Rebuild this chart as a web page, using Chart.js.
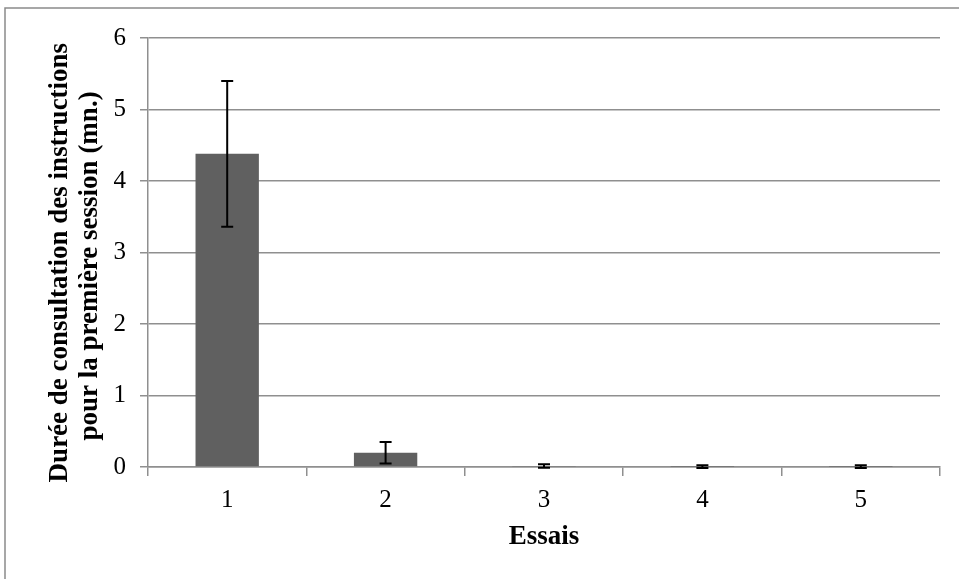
<!DOCTYPE html>
<html>
<head>
<meta charset="utf-8">
<script src="https://cdn.jsdelivr.net/npm/chart.js@4.4.0/dist/chart.umd.min.js"></script>
<style>
  body { margin: 0; background: #fff; }
  canvas { display: block; }
</style>
</head>
<body>
<canvas id="chart" width="959" height="579"></canvas>
<script>
// donnees
const essais  = ['1', '2', '3', '4', '5'];
const durees  = [4.38, 0.20, 0.015, 0.005, 0.005];
const erreurs = [1.02, 0.15, 0.025, 0.02, 0.02];
const yTicks  = [0, 1, 2, 3, 4, 5, 6];

const serif = "'Liberation Serif', 'Times New Roman', serif";
const gris  = '#8f8f8f';

// barres d'erreur, placees via les echelles du graphique
const errorBars = {
	id: 'errorBars',
	afterDatasetsDraw (chart) {
		const ctx = chart.ctx;
		const meta = chart.getDatasetMeta(0);
		const y = chart.scales.y;
		ctx.save();
		ctx.strokeStyle = '#000';
		ctx.lineWidth = 2;
		meta.data.forEach((bar, i) => {
			const top = y.getPixelForValue(durees[i] + erreurs[i]);
			const bot = y.getPixelForValue(durees[i] - erreurs[i]);
			ctx.beginPath();
			ctx.moveTo(bar.x, top); ctx.lineTo(bar.x, bot);
			ctx.moveTo(bar.x - 6, top); ctx.lineTo(bar.x + 6, top);
			ctx.moveTo(bar.x - 6, bot); ctx.lineTo(bar.x + 6, bot);
			ctx.stroke();
		});
		ctx.restore();
	}
};

// cadre exterieur (haut et gauche)
const frame = {
	id: 'frame',
	beforeDraw (chart) {
		const ctx = chart.ctx;
		ctx.save();
		ctx.fillStyle = '#fff';
		ctx.fillRect(0, 0, chart.width, chart.height);
		ctx.strokeStyle = '#8a8a8a';
		ctx.lineWidth = 1.5;
		ctx.beginPath();
		ctx.moveTo(5, chart.height);
		ctx.lineTo(5, 8);
		ctx.lineTo(chart.width, 8);
		ctx.stroke();
		ctx.restore();
	}
};

new Chart('chart', {
	type: 'bar',
	data: {
		labels: essais,
		datasets: [{
			data: durees,
			backgroundColor: '#606060',
			borderWidth: 0,
			barPercentage: 0.4,
			categoryPercentage: 1.0,
		}],
	},
	options: {
		responsive: false,
		animation: false,
		layout: { padding: { top: 38, right: 19, left: 0, bottom: 0 } },
		plugins: {
			legend: { display: false },
			tooltip: { enabled: false },
		},
		scales: {
			x: {
				afterFit (scale) { scale.height = 112; },
				grid: { drawOnChartArea: false, color: gris, lineWidth: 1.5, tickLength: 9 },
				border: { color: gris, width: 1.5 },
				ticks: { color: '#000', font: { family: serif, size: 25 }, padding: 9 },
				title: {
					display: true,
					text: 'Essais',
					color: '#000',
					font: { family: serif, size: 27, weight: 'bold', lineHeight: 1.2 },
					padding: { top: 0, bottom: 26 },
				},
			},
			y: {
				min: 0,
				max: 6,
				afterFit (scale) { scale.width = 148; },
				afterBuildTicks (scale) { scale.ticks = yTicks.map(v => ({ value: v })); },
				grid: { color: gris, lineWidth: 1.5, tickLength: 8 },
				border: { color: gris, width: 1.5 },
				ticks: { color: '#000', font: { family: serif, size: 25 }, padding: 14 },
				title: {
					display: true,
					// espaces finaux : le titre Excel est un peu plus bas que le centre de l'axe
					text: ['Durée de consultation des instructions   ', 'pour la première session (mn.)    '],
					color: '#000',
					font: { family: serif, size: 27, weight: 'bold', lineHeight: 1.1 },
					padding: { top: 45, bottom: 0 },
				},
			},
		},
	},
	plugins: [frame, errorBars],
});
</script>
</body>
</html>
